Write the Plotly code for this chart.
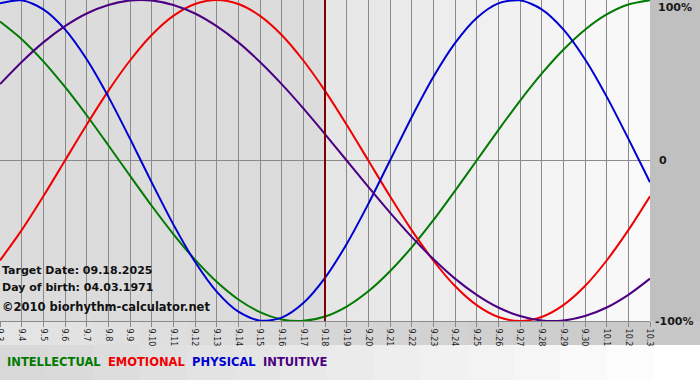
import plotly.graph_objects as go

# ---- data ----
dates = ["9.3", "9.4", "9.5", "9.6", "9.7", "9.8", "9.9", "9.10", "9.11", "9.12",
         "9.13", "9.14", "9.15", "9.16", "9.17", "9.18", "9.19", "9.20", "9.21", "9.22",
         "9.23", "9.24", "9.25", "9.26", "9.27", "9.28", "9.29", "9.30", "10.1", "10.2", "10.3"]

intellectual = [0.866, 0.756, 0.618, 0.458, 0.282, 0.095, -0.095, -0.282, -0.458, -0.618,
                -0.756, -0.866, -0.945, -0.990, -0.999, -0.972, -0.910, -0.815, -0.690, -0.541,
                -0.372, -0.189, 0.0, 0.189, 0.372, 0.541, 0.690, 0.815, 0.910, 0.972, 0.999]

emotional = [-0.623, -0.434, -0.223, 0.0, 0.223, 0.434, 0.623, 0.782, 0.901, 0.975,
             1.0, 0.975, 0.901, 0.782, 0.623, 0.434, 0.223, 0.0, -0.223, -0.434,
             -0.623, -0.782, -0.901, -0.975, -1.0, -0.975, -0.901, -0.782, -0.623, -0.434, -0.223]

physical = [0.979, 0.998, 0.942, 0.817, 0.631, 0.398, 0.136, -0.136, -0.398, -0.631,
            -0.817, -0.942, -0.998, -0.979, -0.888, -0.731, -0.520, -0.270, 0.0, 0.270,
            0.520, 0.731, 0.888, 0.979, 0.998, 0.942, 0.817, 0.631, 0.398, 0.136, -0.136]

intuitive = [0.476, 0.614, 0.736, 0.837, 0.916, 0.969, 0.997, 0.997, 0.969, 0.916,
             0.837, 0.736, 0.614, 0.476, 0.325, 0.165, 0.0, -0.165, -0.325, -0.476,
             -0.614, -0.736, -0.837, -0.916, -0.969, -0.997, -0.997, -0.969, -0.916, -0.837, -0.736]

target_date = "9.18"
series = [
    ("INTELLECTUAL", intellectual, "#007a00"),
    ("EMOTIONAL", emotional, "#f00000"),
    ("PHYSICAL", physical, "#0000d0"),
    ("INTUITIVE", intuitive, "#4b0082"),
]

x_idx = list(range(len(dates)))
t_idx = dates.index(target_date)

fig = go.Figure()
for name, vals, col in series:
    fig.add_trace(go.Scatter(x=x_idx, y=vals, mode="lines", name=name,
                             line=dict(color=col, width=2, shape="spline", smoothing=0.8),
                             hoverinfo="skip", cliponaxis=False))

shapes = []
# left (past) background
shapes.append(dict(type="rect", xref="x", yref="paper", x0=0, x1=t_idx, y0=0, y1=1,
                   fillcolor="#dcdcdc", line_width=0, layer="below"))
# right (future) background, gradient
n = 15
span = (len(dates) - 1) - t_idx
for i in range(n):
    g = int(0xe6 + (0xfa - 0xe6) * i / (n - 1))
    shapes.append(dict(type="rect", xref="x", yref="paper",
                       x0=t_idx + span * i / n, x1=t_idx + span * (i + 1) / n + 0.02,
                       y0=0, y1=1, fillcolor=f"rgb({g},{g},{g})", line_width=0, layer="below"))
# right margin
shapes.append(dict(type="rect", xref="paper", yref="paper", x0=1, x1=1.1, y0=0, y1=1,
                   fillcolor="#c0c0c0", line_width=0, layer="below"))
# tick-label strip
for i in range(n):
    g = int(0xe4 + (0xc8 - 0xe4) * i / (n - 1))
    shapes.append(dict(type="rect", xref="paper", yref="paper",
                       x0=1.077 * i / n, x1=1.077 * (i + 1) / n + 0.002,
                       y0=-24 / 321, y1=0, fillcolor=f"rgb({g},{g},{g})", line_width=0, layer="below"))
# legend strip
for i in range(n):
    g = int(0xd8 + (0xff - 0xd8) * i / (n - 1))
    shapes.append(dict(type="rect", xref="paper", yref="paper",
                       x0=1.077 * i / n, x1=1.077 * (i + 1) / n + 0.002,
                       y0=-59 / 321, y1=-24 / 321, fillcolor=f"rgb({g},{g},{g})", line_width=0, layer="below"))
# target date line
shapes.append(dict(type="line", xref="x", yref="paper", x0=t_idx, x1=t_idx, y0=0, y1=1,
                   line=dict(color="#800000", width=2), layer="above"))

annotations = []
lab_font = dict(family="DejaVu Sans", size=11, color="#1a1a1a")
annotations.append(dict(xref="paper", yref="paper", x=1.0, xshift=6, y=1.0, yshift=1,
                        text="<b>100%</b>", showarrow=False, xanchor="left", yanchor="top", font=lab_font))
annotations.append(dict(xref="paper", yref="y", x=1.0, xshift=7, y=0,
                        text="<b>0</b>", showarrow=False, xanchor="left", yanchor="middle", font=lab_font))
annotations.append(dict(xref="paper", yref="paper", x=1.0, xshift=3, y=0,
                        text="<b>-100%</b>", showarrow=False, xanchor="left", yanchor="middle", font=lab_font))

info_font = dict(family="DejaVu Sans", size=11, color="#111111")
annotations.append(dict(xref="paper", yref="paper", x=0, xshift=0, y=1 - 270 / 321,
                        text="<b>Target Date: 09.18.2025</b>", showarrow=False,
                        xanchor="left", yanchor="middle", font=info_font))
annotations.append(dict(xref="paper", yref="paper", x=0, xshift=0, y=1 - 287 / 321,
                        text="<b>Day of birth: 04.03.1971</b>", showarrow=False,
                        xanchor="left", yanchor="middle", font=info_font))
annotations.append(dict(xref="paper", yref="paper", x=0, xshift=0, y=1 - 307 / 321,
                        text="<b>©2010 biorhythm-calculator.net</b>", showarrow=False,
                        xanchor="left", yanchor="middle",
                        font=dict(family="DejaVu Sans", size=11.5, color="#111111")))

legend_text = "  ".join(
    f"<span style='color:{col}'><b>{name}</b></span>" for name, _, col in series)
annotations.append(dict(xref="paper", yref="paper", x=0, xshift=5, y=1 - 362 / 321,
                        text=legend_text, showarrow=False, xanchor="left", yanchor="middle",
                        font=dict(family="DejaVu Sans", size=11.5)))

fig.update_layout(
    width=700, height=380,
    margin=dict(l=0, r=50, t=0, b=59, autoexpand=False),
    paper_bgcolor="#ffffff",
    plot_bgcolor="rgba(0,0,0,0)",
    showlegend=False,
    shapes=shapes,
    annotations=annotations,
    xaxis=dict(range=[0, len(dates) - 1], tickmode="array", tickvals=x_idx, ticktext=dates,
               tickangle=90, tickfont=dict(family="DejaVu Sans", size=8, color="#222222"),
               ticklabeloverflow="allow",
               showgrid=True, gridcolor="#8a8a8a", gridwidth=1, automargin=False,
               ticks="outside", ticklen=5, tickcolor="#8a8a8a",
               showline=True, linecolor="#8a8a8a", mirror=True, zeroline=False, fixedrange=True),
    yaxis=dict(range=[-1.0, 1.0], showticklabels=False, showgrid=False, automargin=False,
               zeroline=True, zerolinecolor="#8a8a8a", zerolinewidth=1,
               ticks="", showline=False, fixedrange=True),
)

fig.write_html("out.html", config={"displayModeBar": False},
               post_script="document.body.style.margin='0';document.body.style.overflow='hidden';")
